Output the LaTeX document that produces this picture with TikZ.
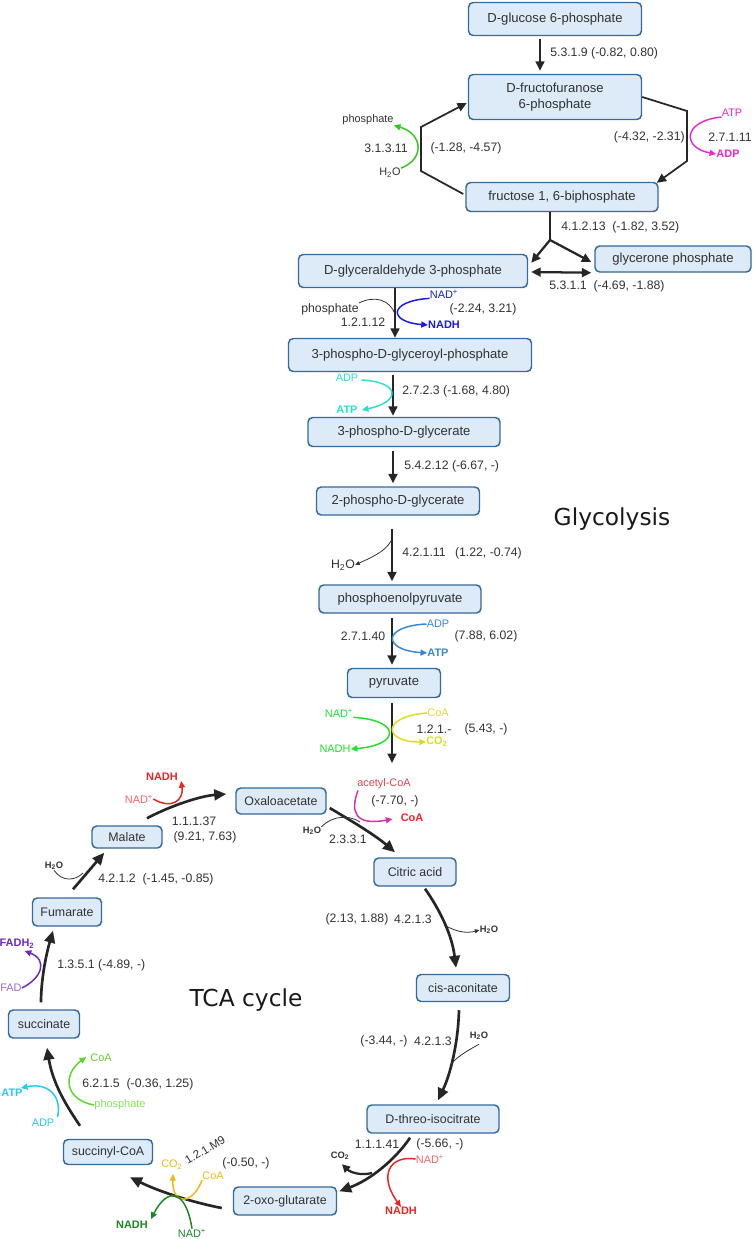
\documentclass[tikz,border=0pt]{standalone}
\usepackage{fontspec}
\setmainfont{Liberation Sans}
\newfontfamily\titlefont{DejaVu Sans}
\usetikzlibrary{arrows.meta,calc}
\definecolor{boxfill}{RGB}{221,234,247}
\definecolor{boxline}{RGB}{52,106,156}
\definecolor{txt}{RGB}{50,50,50}
\definecolor{cmag}{RGB}{228,44,204}
\definecolor{cgrn1}{RGB}{50,200,30}
\definecolor{cblue}{RGB}{25,25,235}
\definecolor{ccyan}{RGB}{40,225,205}
\definecolor{csteel}{RGB}{55,135,210}
\definecolor{cgrn2}{RGB}{30,225,45}
\definecolor{cyel}{RGB}{222,222,30}
\definecolor{cacet}{RGB}{225,70,80}
\definecolor{cpink}{RGB}{215,50,170}
\definecolor{cred}{RGB}{235,35,35}
\definecolor{cgold}{RGB}{238,185,20}
\definecolor{cdkgrn}{RGB}{25,135,35}
\definecolor{ccyan2}{RGB}{30,205,240}
\definecolor{cgrn3}{RGB}{90,215,40}
\definecolor{cpurp}{RGB}{110,40,190}
\begin{document}
\begin{tikzpicture}[x=0.75pt,y=-0.75pt,
  mbox/.style={draw=boxline, fill=boxfill, rounded corners=3.5pt, line width=1.1pt, text=txt, inner sep=1pt, align=center, font=\fontsize{9.8}{11.5}\selectfont},
  tbox/.style={mbox, font=\fontsize{9.3}{11}\selectfont},
  lab/.style={text=txt, inner sep=0pt, font=\fontsize{9.2}{11}\selectfont},
  co/.style={inner sep=0pt, font=\fontsize{8.2}{9.5}\selectfont},
  cob/.style={inner sep=0pt, font=\fontsize{8.2}{9.5}\selectfont\bfseries},
  sm/.style={inner sep=0pt, text=txt, font=\fontsize{7}{8}\selectfont\bfseries},
  ttl/.style={inner sep=0pt, text=black!90, font=\titlefont\fontsize{17.5}{20}\selectfont},
  mainarr/.style={line width=1.7pt, draw=black!85, -{Triangle[length=7pt,width=6.5pt]}},
  tmainarr/.style={line width=2pt, draw=black!85, -{Triangle[length=9pt,width=8pt]}},
  cof/.style={line width=1.1pt, -{Triangle[length=5pt,width=4.5pt]}},
  thinb/.style={line width=0.6pt, draw=black!80, -{Triangle[length=3.5pt,width=3pt]}},
  thinn/.style={line width=0.6pt, draw=black!80},
]
\useasboundingbox (0,0) rectangle (756,1239);
\fill[white] (0,0) rectangle (756,1239);

% ---------- boxes ----------
\node[mbox, minimum width=129.75pt, minimum height=24.75pt] (g6p) at (555,19) {D-glucose 6-phosphate};
\node[mbox, minimum width=129.75pt, minimum height=33.75pt] (f6p) at (555,97) {D-fructofuranose\\6-phosphate};
\node[mbox, minimum width=144pt, minimum height=21.75pt] (fbp) at (562,197) {fructose 1, 6-biphosphate};
\node[mbox, minimum width=117pt, minimum height=19.5pt] (dhap) at (673,259) {glycerone phosphate};
\node[mbox, minimum width=171.75pt, minimum height=24.75pt] (gap) at (413,271) {D-glyceraldehyde 3-phosphate};
\node[mbox, minimum width=182.25pt, minimum height=24.75pt] (bpg) at (410,355) {3-phospho-D-glyceroyl-phosphate};
\node[mbox, minimum width=144pt, minimum height=21.75pt] (pg3) at (404,432) {3-phospho-D-glycerate};
\node[mbox, minimum width=122.25pt, minimum height=21pt] (pg2) at (398,501) {2-phospho-D-glycerate};
\node[mbox, minimum width=121.5pt, minimum height=21pt] (pep) at (400,599) {phosphoenolpyruvate};
\node[mbox, minimum width=69.75pt, minimum height=21.75pt] (pyr) at (394,683) {pyruvate};
\node[tbox, minimum width=67.5pt, minimum height=19.5pt] (oaa) at (281,801) {Oxaloacetate};
\node[tbox, minimum width=61.5pt, minimum height=21pt] (cit) at (415,872) {Citric acid};
\node[tbox, minimum width=69.75pt, minimum height=20.25pt] (cis) at (463,988) {cis-aconitate};
\node[tbox, minimum width=99pt, minimum height=21pt] (icit) at (433,1119) {D-threo-isocitrate};
\node[tbox, minimum width=77.25pt, minimum height=21pt] (akg) at (285,1201) {2-oxo-glutarate};
\node[tbox, minimum width=66.75pt, minimum height=18.75pt] (scoa) at (108,1152) {succinyl-CoA};
\node[tbox, minimum width=53.25pt, minimum height=21pt] (succ) at (44,1024) {succinate};
\node[tbox, minimum width=51.75pt, minimum height=21pt] (fum) at (67,912) {Fumarate};
\node[tbox, minimum width=52.5pt, minimum height=16.5pt] (mal) at (127,837) {Malate};

% ---------- titles ----------
\node[ttl] (tglyc) at (612,519) {Glycolysis};
\node[ttl] (ttca) at (246,1000) {TCA cycle};

% ---------- glycolysis ----------
\draw[mainarr] ($(g6p.south)+(-15,3)$) -- ($(f6p.north)+(-15,-3)$);
\node[lab, anchor=west] (l1) at (550,53) {5.3.1.9 (-0.82, 0.80)};

\draw[mainarr, line width=1.3pt] (f6p.east) -- (687,111) -- (687,161) -- ($(fbp.north east)+(-2,1)$);
\node[co, text=cmag] (atp1) at (732,113) {ATP};
\node[cob, text=cmag] (adp1) at (728,154) {ADP};
\draw[cof, cmag] (atp1.south west) .. controls (682,121) and (682,148) .. (adp1.west);
\node[lab, anchor=east] (l2) at (685,137) {(-4.32, -2.31)};
\node[lab, anchor=west] (l3) at (708,137) {2.7.1.11};

\draw[mainarr, line width=1.3pt] ($(fbp.west)+(-2,-3)$) -- (421,171) -- (421,127) -- ($(f6p.west)+(-1,6)$);
\node[co, text=txt] (w1) at (390,173) {H\textsubscript{2}O};
\node[co, text=txt] (p1) at (368,120) {phosphate};
\draw[cof, cgrn1] (w1.north east) .. controls (424,160) and (424,134) .. (p1.south east);
\node[lab] (l4) at (386,148) {3.1.3.11};
\node[lab] (l5) at (466,148) {(-1.28, -4.57)};

\coordinate (j) at (550,240);
\draw[line width=1.7pt, black!85] ($(fbp.south)+(-12,0)$) -- (j);
\draw[mainarr] (j) -- ($(gap.north east)+(3,9)$);
\draw[mainarr] (j) -- ($(dhap.west)+(-3,3)$);
\node[lab, anchor=west] (l6) at (561,227) {4.1.2.13\ \ (-1.82, 3.52)};
\draw[line width=1.7pt, black!85, {Triangle[length=7pt,width=6.5pt]}-{Triangle[length=7pt,width=6.5pt]}] ($(gap.east)+(3,1)$) -- ($(dhap.south west)+(-3,0)$);
\node[lab, anchor=west] (l7) at (549,286) {5.3.1.1\ \ (-4.69, -1.88)};

\draw[mainarr] ($(gap.south)+(-18,0)$) -- ($(bpg.north)+(-15,0)$);
\node[co, text=cblue] (nad1) at (444,294) {NAD\textsuperscript{+}};
\node[cob, text=cblue] (nadh1) at (444,325) {NADH};
\draw[cof, cblue] (nad1.south west) .. controls (388,301) and (388,322) .. (nadh1.west);
\node[lab] (p2) at (330,309) {phosphate};
\coordinate (m1) at (395,314);
\draw[thinn] (p2.north east) .. controls (375,295) and (390,300) .. (m1);
\node[lab] (l8) at (363,322) {1.2.1.12};
\node[lab] (l9) at (483,309) {(-2.24, 3.21)};

\draw[mainarr] ($(bpg.south)+(-17,3)$) -- ($(pg3.north)+(-11,-1)$);
\node[co, text=ccyan] (adp2) at (347,378) {ADP};
\node[cob, text=ccyan] (atp2) at (347,410) {ATP};
\draw[cof, ccyan] ($(adp2.east)+(3,2)$) .. controls (401,382) and (401,402) .. ($(atp2.east)+(4,0)$);
\node[lab, anchor=west] (l10) at (402,391) {2.7.2.3 (-1.68, 4.80)};

\draw[mainarr] ($(pg3.south)+(-11,4)$) -- ($(pg2.north)+(-5,-3)$);
\node[lab, anchor=west] (l11) at (404,466) {5.4.2.12 (-6.67, -)};

\draw[mainarr] ($(pg2.south)+(-6,13)$) -- ($(pep.north)+(-8,-3)$);
\node[lab] (w2) at (343,565) {H\textsubscript{2}O};
\coordinate (m2) at (391,541);
\draw[thinb] (m2) .. controls (385,552) and (370,558) .. (w2.east);
\node[lab, anchor=west] (l12) at (402,553) {4.2.1.11\hspace{7pt}(1.22, -0.74)};

\draw[mainarr] ($(pep.south)+(-8,4)$) -- ($(pyr.north)+(-2,-3)$);
\node[co, text=csteel] (adp3) at (438,624) {ADP};
\node[cob, text=csteel] (atp3) at (438,653) {ATP};
\draw[cof, csteel] (adp3.west) .. controls (382,626) and (382,650) .. (atp3.west);
\node[lab] (l13) at (363,636) {2.7.1.40};
\node[lab] (l14) at (486,636) {(7.88, 6.02)};

\coordinate (pyrend) at (392,763);
\draw[mainarr] ($(pyr.south)+(-2,5)$) -- (pyrend);
\node[co, text=cgrn2] (nad2) at (339,713) {NAD\textsuperscript{+}};
\node[co, text=cgrn2] (nadh2) at (335,749) {NADH};
\draw[cof, cgrn2] (nad2.south east) .. controls (401,720) and (401,745) .. (nadh2.east);
\node[co, text=cyel] (coa1) at (438,713) {CoA};
\node[cob, text=cyel] (co2a) at (437,742) {CO\textsubscript{2}};
\draw[cof, cyel] (coa1.west) .. controls (382,716) and (382,742) .. (co2a.west);
\node[lab] (l15) at (434,729) {1.2.1.-};
\node[lab] (l16) at (486,729) {(5.43, -)};

% ---------- TCA cycle ----------
\draw[tmainarr] ($(mal.north)+(20,-7)$) .. controls (170,806) and (200,796) .. ($(oaa.west)+(-9,-7)$);
\node[co, text=cred!70] (nad3) at (139,799) {NAD\textsuperscript{+}};
\node[cob, text=cred] (nadh3) at (162,777) {NADH};
\draw[cof, cred] (nad3.east) .. controls (172,810) and (184,800) .. ($(nadh3.east)+(3,4)$);
\node[lab] (l17) at (194,821) {1.1.1.37};
\node[lab] (l18) at (205,837) {(9.21, 7.63)};

\draw[tmainarr] ($(oaa.east)+(3,7)$) .. controls (350,820) and (375,835) .. ($(cit.north)+(-20,-5)$);
\node[co, text=cacet] (acoa) at (384,784) {acetyl-CoA};
\node[cob, text=cred] (coa2) at (412,818) {CoA};
\draw[cof, cpink] ($(acoa.south west)+(1,1)$) .. controls (350,812) and (355,826) .. ($(coa2.west)+(-8,1)$);
\node[lab] (l19) at (395,801) {(-7.70, -)};
\node[sm] (w3) at (312,831) {H\textsubscript{2}O};
\coordinate (m3) at (360,822);
\draw[thinn] (w3.north east) .. controls (333,815) and (350,815) .. (m3);
\node[lab] (l20) at (348,839) {2.3.3.1};

\draw[tmainarr] ($(cit.south)+(10,2)$) .. controls (440,910) and (452,935) .. ($(cis.north)+(-7,-6)$);
\node[sm] (w4) at (489,930) {H\textsubscript{2}O};
\coordinate (m4) at (444,925);
\draw[thinb] (m4) .. controls (455,931) and (465,934) .. (w4.west);
\node[lab] (l21) at (357,919) {(2.13, 1.88)};
\node[lab] (l22) at (413,919) {4.2.1.3};

\draw[tmainarr] ($(cis.south)+(-4,8)$) .. controls (458,1045) and (450,1075) .. ($(icit.north)+(5,-4)$);
\node[sm] (w5) at (479,1036) {H\textsubscript{2}O};
\coordinate (m5) at (450,1066);
\draw[thinn] ($(w5.south)+(0,4)$) .. controls (465,1052) and (455,1058) .. (m5);
\node[lab] (l23) at (384,1041) {(-3.44, -)};
\node[lab] (l24) at (433,1041) {4.2.1.3};

\draw[tmainarr] ($(icit.south)+(-23,4)$) .. controls (395,1160) and (370,1180) .. ($(akg.north east)+(2,5)$);
\node[sm] (co2b) at (340,1156) {CO\textsubscript{2}};
\coordinate (m6) at (372,1173);
\draw[line width=1.7pt, black!85, -{Triangle[length=6pt,width=6pt]}] (m6) .. controls (360,1176) and (350,1172) .. ($(co2b.south)+(2,4)$);
\node[co, text=cred!70] (nad4) at (430,1159) {NAD\textsuperscript{+}};
\node[cob, text=cred] (nadh4) at (401,1211) {NADH};
\draw[cof, cred] (nad4.west) .. controls (390,1155) and (378,1175) .. (nadh4.north);
\node[lab] (l25) at (377,1144) {1.1.1.41};
\node[lab] (l26) at (440,1144) {(-5.66, -)};

\draw[tmainarr] ($(akg.west)+(-11,7)$) .. controls (195,1203) and (160,1192) .. ($(scoa.south)+(22,12)$);
\node[co, text=cgold] (coa3) at (213,1176) {CoA};
\node[co, text=cgold] (co2c) at (172,1165) {CO\textsubscript{2}};
\draw[cof, cgold] (coa3.south west) .. controls (192,1206) and (172,1205) .. ($(co2c.south)+(1,4)$);
\node[co, text=cdkgrn] (nad5) at (192,1233) {NAD\textsuperscript{+}};
\node[cob, text=cdkgrn] (nadh5) at (132,1225) {NADH};
\draw[cof, cdkgrn] (nad5.north) .. controls (186,1190) and (168,1186) .. ($(nadh5.north east)+(3,-2)$);
\node[lab, rotate=31, font=\fontsize{8.6}{10}\selectfont] (l27) at (205,1150) {1.2.1.M9};
\node[lab] (l28) at (246,1163) {(-0.50, -)};

\draw[tmainarr] ($(scoa.north)+(-28,-13)$) .. controls (68,1108) and (53,1085) .. ($(succ.south)+(3,9)$);
\node[co, text=ccyan2] (adp4) at (43,1123) {ADP};
\node[cob, text=ccyan2] (atp4) at (12,1093) {ATP};
\draw[cof, ccyan2] ($(adp4.north east)+(3,-2)$) .. controls (62,1098) and (50,1082) .. ($(atp4.north east)+(-2,-1)$);
\node[co, text=cgrn3!75] (pi4) at (120,1105) {phosphate};
\node[co, text=cgrn3] (coa4) at (101,1058) {CoA};
\draw[cof, cgrn3] (pi4.west) .. controls (65,1100) and (62,1075) .. ($(coa4.west)+(-4,-1)$);
\node[lab, anchor=west] (l29) at (82,1084) {6.2.1.5\ \ (-0.36, 1.25)};

\draw[tmainarr] ($(succ.north)+(-3,-7)$) .. controls (41,980) and (46,955) .. ($(fum.south)+(-14,4)$);
\node[co, text=cpurp!70] (fad) at (11,988) {FAD};
\node[cob, text=cpurp] (fadh) at (17,944) {FADH\textsubscript{2}};
\draw[cof, cpurp] (fad.east) .. controls (42,978) and (48,960) .. ($(fadh.south east)+(-10,2)$);
\node[lab, anchor=west] (l30) at (57,965) {1.3.5.1 (-4.89, -)};

\draw[tmainarr] ($(fum.north)+(6,-8)$) -- ($(mal.south west)+(13,4)$);
\node[sm] (w6) at (54,866) {H\textsubscript{2}O};
\coordinate (m7) at (83,873);
\draw[thinn] (w6.south) .. controls (62,882) and (75,881) .. (m7);
\node[lab, anchor=west] (l31) at (98,879) {4.2.1.2\ \ (-1.45, -0.85)};
\end{tikzpicture}
\end{document}
